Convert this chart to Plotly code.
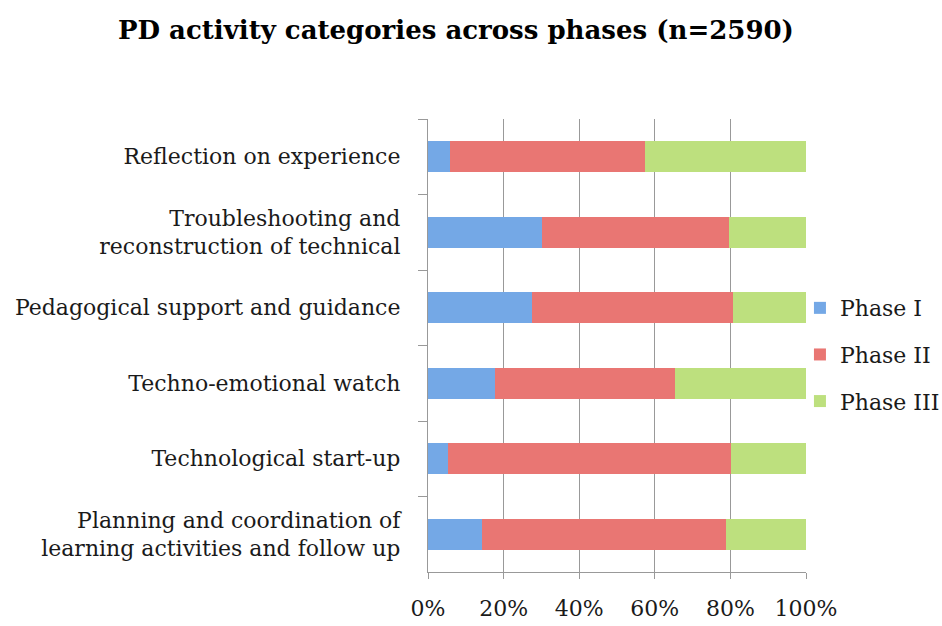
import plotly.graph_objects as go

categories = [
    "Reflection on experience",
    "Troubleshooting and<br>reconstruction of technical",
    "Pedagogical support and guidance",
    "Techno-emotional watch",
    "Technological start-up",
    "Planning and coordination of<br>learning activities and follow up",
]
phase1 = [5.9, 30.1, 27.5, 17.8, 5.3, 14.3]
phase2 = [51.4, 49.6, 53.1, 47.6, 74.9, 64.6]
phase3 = [42.7, 20.3, 19.4, 34.6, 19.8, 21.1]
series_names = ["Phase I", "Phase II", "Phase III"]
colors = ["#74a8e6", "#e97673", "#bde07e"]
x_ticks = [0, 20, 40, 60, 80, 100]
x_tick_labels = ["0%", "20%", "40%", "60%", "80%", "100%"]

FONT = "DejaVu Serif"

fig = go.Figure()
for name, vals, col in zip(series_names, [phase1, phase2, phase3], colors):
    fig.add_trace(go.Bar(
        y=categories, x=vals, name=name, orientation="h",
        marker=dict(color=col, line=dict(width=0)),
        legendgroup=name,
    ))

fig.update_layout(
    barmode="stack",
    bargap=0.59,
    width=942, height=626,
    margin=dict(l=428, r=136, t=119, b=54, autoexpand=False),
    paper_bgcolor="white", plot_bgcolor="white",
    font=dict(family=FONT, size=22, color="#1a1a1a"),
    title=dict(text="<b>PD activity categories across phases (n=2590)</b>",
               x=0.484, xanchor="center", y=0.952, yanchor="middle",
               font=dict(family=FONT, size=26, color="#000000")),
    legend=dict(x=0.984, xanchor="left", y=0.48, yanchor="middle",
                tracegroupgap=15, font=dict(size=22),
                itemwidth=30, bgcolor="rgba(0,0,0,0)"),
    showlegend=True,
)
fig.update_xaxes(
    range=[0, 100], tickvals=x_ticks, ticktext=x_tick_labels,
    showgrid=True, gridcolor="#999999", gridwidth=1.3,
    showline=True, linecolor="#999999", linewidth=1.3,
    ticks="outside", ticklen=6, tickcolor="#999999",
    ticklabelstandoff=10, zeroline=False, automargin=False,
    tickfont=dict(size=22),
)
fig.update_yaxes(
    autorange="reversed",
    showline=True, linecolor="#999999", linewidth=1.3,
    ticks="outside", ticklen=9, tickcolor="#999999", tickson="boundaries",
    ticklabelstandoff=22, showgrid=False, automargin=False,
    tickfont=dict(size=22),
)
fig.write_html(
    "out.html",
    config={"displayModeBar": False},
    post_script="document.body.style.margin='0';document.body.style.overflow='hidden';",
)
